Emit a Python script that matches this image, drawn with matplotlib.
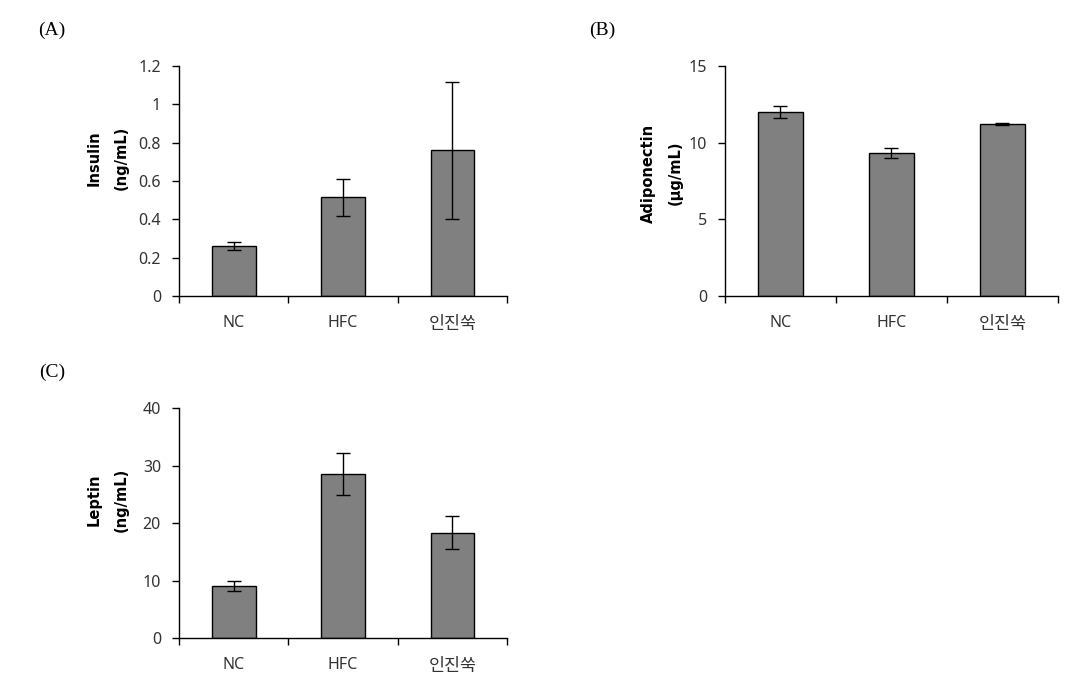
import numpy as np
import matplotlib
matplotlib.use('Agg')
import matplotlib.pyplot as plt
from matplotlib.ticker import FuncFormatter

plt.rcParams['font.family'] = ['Noto Sans', 'Noto Sans CJK KR', 'DejaVu Sans']

groups = ['NC', 'HFC', '인진쑥']

insulin = [0.26, 0.515, 0.76]
insulin_err = [0.022, 0.098, 0.358]

adiponectin = [12.0, 9.32, 11.22]
adiponectin_err = [0.42, 0.35, 0.04]

leptin = [9.0, 28.5, 18.3]
leptin_err = [0.85, 3.6, 2.9]


def bar_panel(ax, values, errors, ymax, step, label, label_xy):
    x = np.arange(len(groups)) + 0.5
    ax.bar(x, values, width=0.4, color='#808080', edgecolor='black', linewidth=1.0, zorder=2)
    ax.errorbar(x, values, yerr=errors, fmt='none', ecolor='black', elinewidth=1.0,
                capsize=5, capthick=1.0, zorder=3)
    ax.set_xlim(0, len(groups))
    ax.set_ylim(0, ymax)
    ax.set_yticks(np.arange(0, ymax + step / 2, step))
    ax.yaxis.set_major_formatter(FuncFormatter(lambda v, p: '%g' % round(v, 2)))
    # category boundaries get the ticks, labels sit in between
    ax.set_xticks(np.arange(len(groups) + 1))
    ax.set_xticklabels([])
    ax.set_xticks(x, minor=True)
    ax.set_xticklabels(groups, minor=True)
    ax.tick_params(axis='x', which='major', direction='out', length=5, width=1.0)
    ax.tick_params(axis='x', which='minor', length=0, pad=14, labelsize=11.5, labelcolor='#333333')
    ax.tick_params(axis='y', direction='out', length=5, width=1.0, pad=8, labelsize=11.5,
                   labelcolor='#333333')
    # hangul in the original font runs a bit bigger
    for t in ax.get_xticklabels(minor=True):
        if not t.get_text().isascii():
            t.set_fontsize(12.5)
    for s in ['top', 'right']:
        ax.spines[s].set_visible(False)
    for s in ['left', 'bottom']:
        ax.spines[s].set_linewidth(1.0)
    ax.text(label_xy[0], label_xy[1], label, transform=ax.transAxes, rotation=90,
            ha='center', va='center', fontsize=10.5, fontweight='bold', multialignment='center',
            linespacing=2.0, family='DejaVu Sans')


fig = plt.figure(figsize=(10.83, 6.96), dpi=100)

ax_a = fig.add_axes([0.1653, 0.5747, 0.3029, 0.3305])
ax_b = fig.add_axes([0.6694, 0.5747, 0.3075, 0.3305])
ax_c = fig.add_axes([0.1653, 0.0833, 0.3029, 0.3305])

bar_panel(ax_a, insulin, insulin_err, 1.2, 0.2, 'Insulin\n(ng/mL)', (-0.218, 0.6))
bar_panel(ax_b, adiponectin, adiponectin_err, 15, 5, 'Adiponectin\n(\u03bcg/mL)', (-0.19, 0.535))
bar_panel(ax_c, leptin, leptin_err, 40, 10, 'Leptin\n(ng/mL)', (-0.218, 0.6))

for txt, px, py in [('(A)', 52, 30), ('(B)', 602, 30), ('(C)', 52, 372)]:
    fig.text(px / 1083, 1 - py / 696, txt, ha='center', va='center', fontsize=14,
             family='Liberation Serif')

fig.savefig('out.png', dpi=100)
